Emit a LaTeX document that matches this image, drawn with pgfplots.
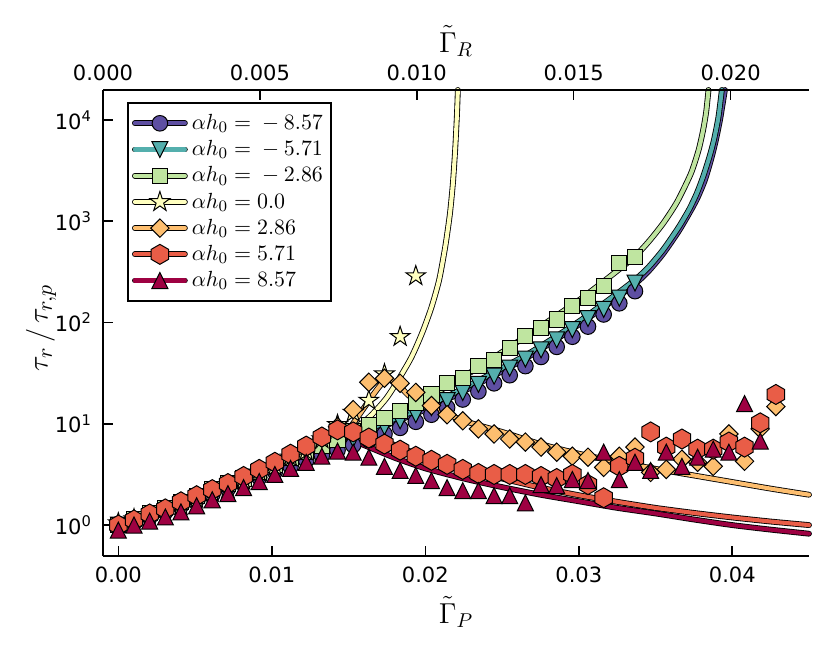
\documentclass[border=0pt]{standalone}
\usepackage{fontspec}
\setmainfont{DejaVu Sans}
\usepackage{pgfplots}
\pgfplotsset{compat=1.18}

\definecolor{c1}{HTML}{5E4FA2}
\definecolor{c2}{HTML}{54AFAD}
\definecolor{c3}{HTML}{BFE5A0}
\definecolor{c4}{HTML}{FFFFBF}
\definecolor{c5}{HTML}{FDBE6F}
\definecolor{c6}{HTML}{E95D47}
\definecolor{c7}{HTML}{9E0142}

\pgfdeclareplotmark{fstar}{%
 \pgfpathmoveto{\pgfqpoint{0pt}{\pgfplotmarksize}}%
 \pgfpathlineto{\pgfqpoint{-0.2245\pgfplotmarksize}{0.309\pgfplotmarksize}}%
 \pgfpathlineto{\pgfqpoint{-0.951\pgfplotmarksize}{0.309\pgfplotmarksize}}%
 \pgfpathlineto{\pgfqpoint{-0.3633\pgfplotmarksize}{-0.118\pgfplotmarksize}}%
 \pgfpathlineto{\pgfqpoint{-0.588\pgfplotmarksize}{-0.809\pgfplotmarksize}}%
 \pgfpathlineto{\pgfqpoint{0pt}{-0.382\pgfplotmarksize}}%
 \pgfpathlineto{\pgfqpoint{0.588\pgfplotmarksize}{-0.809\pgfplotmarksize}}%
 \pgfpathlineto{\pgfqpoint{0.3633\pgfplotmarksize}{-0.118\pgfplotmarksize}}%
 \pgfpathlineto{\pgfqpoint{0.951\pgfplotmarksize}{0.309\pgfplotmarksize}}%
 \pgfpathlineto{\pgfqpoint{0.2245\pgfplotmarksize}{0.309\pgfplotmarksize}}%
 \pgfpathclose\pgfusepathqfillstroke}
\pgfdeclareplotmark{hexa}{%
 \pgfpathmoveto{\pgfqpoint{0pt}{\pgfplotmarksize}}%
 \pgfpathlineto{\pgfqpoint{-0.866\pgfplotmarksize}{0.5\pgfplotmarksize}}%
 \pgfpathlineto{\pgfqpoint{-0.866\pgfplotmarksize}{-0.5\pgfplotmarksize}}%
 \pgfpathlineto{\pgfqpoint{0pt}{-\pgfplotmarksize}}%
 \pgfpathlineto{\pgfqpoint{0.866\pgfplotmarksize}{-0.5\pgfplotmarksize}}%
 \pgfpathlineto{\pgfqpoint{0.866\pgfplotmarksize}{0.5\pgfplotmarksize}}%
 \pgfpathclose\pgfusepathqfillstroke}
\pgfdeclareplotmark{sqdiam}{%
 \pgfpathmoveto{\pgfqpoint{0pt}{\pgfplotmarksize}}%
 \pgfpathlineto{\pgfqpoint{-\pgfplotmarksize}{0pt}}%
 \pgfpathlineto{\pgfqpoint{0pt}{-\pgfplotmarksize}}%
 \pgfpathlineto{\pgfqpoint{\pgfplotmarksize}{0pt}}%
 \pgfpathclose\pgfusepathqfillstroke}
\pgfdeclareplotmark{triup}{%
 \pgfpathmoveto{\pgfqpoint{0pt}{\pgfplotmarksize}}%
 \pgfpathlineto{\pgfqpoint{-\pgfplotmarksize}{-\pgfplotmarksize}}%
 \pgfpathlineto{\pgfqpoint{\pgfplotmarksize}{-\pgfplotmarksize}}%
 \pgfpathclose\pgfusepathqfillstroke}
\pgfdeclareplotmark{tridown}{%
 \pgfpathmoveto{\pgfqpoint{0pt}{-\pgfplotmarksize}}%
 \pgfpathlineto{\pgfqpoint{-\pgfplotmarksize}{\pgfplotmarksize}}%
 \pgfpathlineto{\pgfqpoint{\pgfplotmarksize}{\pgfplotmarksize}}%
 \pgfpathclose\pgfusepathqfillstroke}

\tikzset{
 m1/.style={mark=*, mark size=3.9pt, mark options={draw=black, fill=c1, line width=0.5pt, solid}},
 m2/.style={mark=tridown, mark size=4pt, mark options={draw=black, fill=c2, line width=0.5pt, solid}},
 m3/.style={mark=square*, mark size=3.8pt, mark options={draw=black, fill=c3, line width=0.5pt, solid}},
 m4/.style={mark=fstar, mark size=5.2pt, mark options={draw=black, fill=c4, line width=0.5pt, solid}},
 m5/.style={mark=sqdiam, mark size=4.6pt, mark options={draw=black, fill=c5, line width=0.5pt, solid}},
 m6/.style={mark=hexa, mark size=5pt, mark options={draw=black, fill=c6, line width=0.5pt, solid}},
 m7/.style={mark=triup, mark size=4pt, mark options={draw=black, fill=c7, line width=0.5pt, solid}},
}
\pgfplotsset{
 under/.style={black, line width=2.9pt, line cap=round, line join=round, smooth, tension=0.4, no marks, forget plot},
 over/.style={#1, line width=2.05pt, line cap=round, line join=round, smooth, tension=0.4, no marks, forget plot},
 pts/.style={only marks, forget plot, on layer=pre main},
}

\newcommand{\legimg}[2]{\addlegendimage{legend image code/.code={%
  \draw[black, line width=2.9pt, line cap=round] (0pt,0pt) -- (25pt,0pt);
  \draw[#1, line width=2.05pt, line cap=round] (0pt,0pt) -- (25pt,0pt);
  \draw plot[#2] coordinates {(12.5pt,0pt)};}}}

\begin{document}
\begin{tikzpicture}
\begin{axis}[
 set layers,
 scale only axis, width=353pt, height=233pt,
 xmin=-0.001, xmax=0.045,
 ymode=log, ymin=0.495, ymax=19800,
 axis x line*=bottom, axis y line*=left,
 axis line style={line width=1pt, -},
 tick align=inside,
 major tick length=5pt, minor tick length=0pt,
 every tick/.style={black, line width=0.8pt},
 scaled x ticks=false,
 xtick={0,0.01,0.02,0.03,0.04},
 xticklabels={0.00,0.01,0.02,0.03,0.04},
 ytick={1,10,100,1000,10000},
 yticklabels={10\textsuperscript{0},10\textsuperscript{1},10\textsuperscript{2},10\textsuperscript{3},10\textsuperscript{4}},
 ticklabel style={font=\fontsize{10.5}{12}\selectfont},
 xticklabel style={yshift=-2pt},
 yticklabel style={xshift=-2pt},
 every axis x label/.style={at={(rel axis cs:0.5,0)}, anchor=center, yshift=-28pt, font=\fontsize{14}{16}\selectfont},
 xlabel={$\tilde{\Gamma}_P$},
 clip=false,
 legend style={at={(rel axis cs:0,1)}, anchor=north west, xshift=12pt, yshift=-6pt,
   draw=black, line width=1pt, font=\fontsize{11}{13}\selectfont,
   inner xsep=2pt, inner ysep=3.6pt, row sep=0pt},
 legend cell align=left,
]
\coordinate (SW) at (rel axis cs:0,0);
\coordinate (NE) at (rel axis cs:1,1);
\coordinate (YL) at (rel axis cs:0,0.49);

% markers
\addplot[pts, m1] coordinates {(0,1.023)(0.00102,1.072)(0.00204,1.202)(0.00306,1.349)(0.00408,1.549)(0.0051,1.778)(0.00612,1.995)(0.00714,2.291)(0.00816,2.630)(0.00918,2.951)(0.0102,3.388)(0.01122,3.802)(0.01224,4.365)(0.01326,4.898)(0.01428,5.495)(0.0153,6.166)(0.01632,6.918)(0.01734,7.943)(0.01836,9.120)(0.01938,10.47)(0.0204,12.30)(0.02142,14.45)(0.02244,17.38)(0.02346,20.89)(0.02448,25.12)(0.0255,30.20)(0.02652,37.15)(0.02754,45.71)(0.02856,57.54)(0.02958,72.44)(0.0306,91.20)(0.03162,120.2)(0.03264,154.9)(0.03366,204.2)};
\addplot[pts, m2] coordinates {(0,1.0)(0.00102,1.047)(0.00204,1.175)(0.00306,1.349)(0.00408,1.549)(0.0051,1.738)(0.00612,1.995)(0.00714,2.291)(0.00816,2.630)(0.00918,3.020)(0.0102,3.467)(0.01122,3.981)(0.01224,4.571)(0.01326,5.248)(0.01428,6.026)(0.0153,7.079)(0.01632,8.128)(0.01734,9.333)(0.01836,10.72)(0.01938,12.30)(0.0204,14.45)(0.02142,16.98)(0.02244,20.42)(0.02346,24.55)(0.02448,29.51)(0.0255,35.48)(0.02652,43.65)(0.02754,53.70)(0.02856,67.61)(0.02958,85.11)(0.0306,109.6)(0.03162,134.9)(0.03264,173.8)(0.03366,245.5)};
\addplot[pts, m3] coordinates {(0,1.0)(0.00102,1.148)(0.00204,1.318)(0.00306,1.479)(0.00408,1.698)(0.0051,1.950)(0.00612,2.291)(0.00714,2.570)(0.00816,2.884)(0.00918,3.388)(0.0102,3.890)(0.01122,4.571)(0.01224,5.248)(0.01326,6.026)(0.01428,6.918)(0.0153,8.511)(0.01632,9.772)(0.01734,11.48)(0.01836,13.49)(0.01938,16.22)(0.0204,19.50)(0.02142,25.12)(0.02244,28.18)(0.02346,37.15)(0.02448,42.66)(0.0255,56.23)(0.02652,74.13)(0.02754,89.13)(0.02856,107.2)(0.02958,144.5)(0.0306,173.8)(0.03162,229.1)(0.03264,389.0)(0.03366,446.7)};
\addplot[pts, m4] coordinates {(0,1.047)(0.00102,1.148)(0.00204,1.202)(0.00306,1.288)(0.00408,1.549)(0.0051,1.820)(0.00612,2.089)(0.00714,2.291)(0.00816,2.754)(0.00918,3.311)(0.0102,3.802)(0.01122,4.677)(0.01224,5.370)(0.01326,7.079)(0.01428,9.772)(0.0153,12.88)(0.01632,16.98)(0.01734,30.90)(0.01836,72.44)(0.01938,288.4)};
\addplot[pts, m5] coordinates {(0,1.0)(0.00102,1.122)(0.00204,1.259)(0.00306,1.413)(0.00408,1.660)(0.0051,1.905)(0.00612,2.239)(0.00714,2.512)(0.00816,2.951)(0.00918,3.467)(0.0102,4.074)(0.01122,4.786)(0.01224,5.754)(0.01326,7.244)(0.01428,9.333)(0.0153,13.80)(0.01632,25.70)(0.01734,28.18)(0.01836,25.12)(0.01938,20.42)(0.0204,15.14)(0.02142,12.30)(0.02244,10.72)(0.02346,8.913)(0.02448,7.943)(0.0255,7.079)(0.02652,6.607)(0.02754,5.888)(0.02856,5.248)(0.02958,4.786)(0.0306,4.677)(0.03162,3.715)(0.03264,4.786)(0.03366,5.888)(0.03468,3.311)(0.0357,3.548)(0.03672,4.467)(0.03774,4.169)(0.03876,3.802)(0.03978,7.943)(0.0408,4.266)(0.04182,8.913)(0.04284,14.79)};
\addplot[pts, m6] coordinates {(0,1.0)(0.00102,1.122)(0.00204,1.288)(0.00306,1.445)(0.00408,1.698)(0.0051,1.950)(0.00612,2.239)(0.00714,2.570)(0.00816,3.020)(0.00918,3.548)(0.0102,4.169)(0.01122,5.012)(0.01224,6.026)(0.01326,7.413)(0.01428,8.710)(0.0153,8.318)(0.01632,7.244)(0.01734,6.310)(0.01836,5.495)(0.01938,4.786)(0.0204,4.365)(0.02142,3.981)(0.02244,3.548)(0.02346,3.236)(0.02448,3.162)(0.0255,3.162)(0.02652,3.162)(0.02754,3.020)(0.02856,2.884)(0.02958,3.162)(0.0306,2.512)(0.03162,1.862)(0.03264,3.802)(0.03366,4.571)(0.03468,8.318)(0.0357,5.888)(0.03672,7.079)(0.03774,5.623)(0.03876,5.623)(0.03978,6.607)(0.0408,5.888)(0.04182,10.23)(0.04284,19.50)};
\addplot[pts, m7] coordinates {(0,0.891)(0.00102,1.0)(0.00204,1.096)(0.00306,1.202)(0.00408,1.349)(0.0051,1.549)(0.00612,1.778)(0.00714,2.042)(0.00816,2.344)(0.00918,2.692)(0.0102,3.162)(0.01122,3.631)(0.01224,4.169)(0.01326,4.786)(0.01428,5.370)(0.0153,5.248)(0.01632,4.677)(0.01734,3.802)(0.01836,3.467)(0.01938,3.090)(0.0204,2.754)(0.02142,2.344)(0.02244,2.188)(0.02346,2.188)(0.02448,1.950)(0.0255,1.950)(0.02652,1.660)(0.02754,2.512)(0.02856,2.455)(0.02958,2.818)(0.0306,2.754)(0.03162,5.248)(0.03264,2.818)(0.03366,4.169)(0.03468,3.467)(0.0357,5.248)(0.03672,3.802)(0.03774,4.677)(0.03876,5.623)(0.03978,5.248)(0.0408,15.85)(0.04182,6.761)};

% lines
\addplot[under] coordinates {(0,1)(0.004,1.660)(0.008,2.818)(0.012,4.786)(0.016,7.943)(0.0203,14.45)(0.0235,25.12)(0.0268,46.77)(0.0301,97.72)(0.0334,223.9)(0.0345,316.2)(0.0355,478.6)(0.0365,794.3)(0.0372,1202)(0.0377,1660)(0.0382,2512)(0.0386,3981)(0.0389,6026)(0.0392,10000)(0.03952,19800)};
\addplot[over=c1] coordinates {(0,1)(0.004,1.660)(0.008,2.818)(0.012,4.786)(0.016,7.943)(0.0203,14.45)(0.0235,25.12)(0.0268,46.77)(0.0301,97.72)(0.0334,223.9)(0.0345,316.2)(0.0355,478.6)(0.0365,794.3)(0.0372,1202)(0.0377,1660)(0.0382,2512)(0.0386,3981)(0.0389,6026)(0.0392,10000)(0.03952,19800)};
\addplot[under] coordinates {(0,1)(0.004,1.679)(0.008,2.884)(0.012,5.012)(0.016,8.511)(0.0203,15.49)(0.0235,26.92)(0.0268,50.12)(0.0301,104.7)(0.0334,245.5)(0.0345,346.7)(0.0355,524.8)(0.0365,871.0)(0.0372,1318)(0.0377,1905)(0.0381,2754)(0.0385,4266)(0.0388,6310)(0.0391,10720)(0.03932,19800)};
\addplot[over=c2] coordinates {(0,1)(0.004,1.679)(0.008,2.884)(0.012,5.012)(0.016,8.511)(0.0203,15.49)(0.0235,26.92)(0.0268,50.12)(0.0301,104.7)(0.0334,245.5)(0.0345,346.7)(0.0355,524.8)(0.0365,871.0)(0.0372,1318)(0.0377,1905)(0.0381,2754)(0.0385,4266)(0.0388,6310)(0.0391,10720)(0.03932,19800)};
\addplot[under] coordinates {(0,1)(0.004,1.698)(0.008,2.951)(0.012,5.248)(0.016,9.333)(0.018,12.59)(0.0203,18.62)(0.0236,37.15)(0.0268,77.62)(0.0301,169.8)(0.0334,416.9)(0.0345,616.6)(0.0355,955)(0.0364,1549)(0.0373,2951)(0.0378,5012)(0.0381,7943)(0.0383,12020)(0.03845,19800)};
\addplot[over=c3] coordinates {(0,1)(0.004,1.698)(0.008,2.951)(0.012,5.248)(0.016,9.333)(0.018,12.59)(0.0203,18.62)(0.0236,37.15)(0.0268,77.62)(0.0301,169.8)(0.0334,416.9)(0.0345,616.6)(0.0355,955)(0.0364,1549)(0.0373,2951)(0.0378,5012)(0.0381,7943)(0.0383,12020)(0.03845,19800)};
\addplot[under] coordinates {(0,1)(0.004,1.679)(0.008,2.951)(0.012,5.309)(0.014,7.244)(0.016,10.47)(0.0175,18.20)(0.019,42.66)(0.0198,79.43)(0.0204,141.3)(0.0209,263.0)(0.0213,562.3)(0.0216,1175)(0.0218,2399)(0.02195,5248)(0.02206,11220)(0.02212,19800)};
\addplot[over=c4] coordinates {(0,1)(0.004,1.679)(0.008,2.951)(0.012,5.309)(0.014,7.244)(0.016,10.47)(0.0175,18.20)(0.019,42.66)(0.0198,79.43)(0.0204,141.3)(0.0209,263.0)(0.0213,562.3)(0.0216,1175)(0.0218,2399)(0.02195,5248)(0.02206,11220)(0.02212,19800)};
\addplot[under] coordinates {(0,1)(0.004,1.679)(0.008,2.951)(0.012,5.248)(0.0146,7.499)(0.0174,26.92)(0.019,18.62)(0.020,15.49)(0.0225,10.72)(0.025,8.318)(0.0275,6.310)(0.030,5.070)(0.0325,4.217)(0.035,3.589)(0.0375,3.090)(0.040,2.661)(0.0425,2.291)(0.045,1.995)};
\addplot[over=c5] coordinates {(0,1)(0.004,1.679)(0.008,2.951)(0.012,5.248)(0.0146,7.499)(0.0174,26.92)(0.019,18.62)(0.020,15.49)(0.0225,10.72)(0.025,8.318)(0.0275,6.310)(0.030,5.070)(0.0325,4.217)(0.035,3.589)(0.0375,3.090)(0.040,2.661)(0.0425,2.291)(0.045,1.995)};
\addplot[under] coordinates {(0,1)(0.004,1.679)(0.008,2.951)(0.012,5.248)(0.014,7.244)(0.0152,9.333)(0.016,8.318)(0.018,6.166)(0.020,4.677)(0.0225,3.589)(0.025,2.884)(0.0275,2.344)(0.030,1.972)(0.0325,1.698)(0.035,1.479)(0.0375,1.318)(0.040,1.189)(0.0425,1.084)(0.045,1.0)};
\addplot[over=c6] coordinates {(0,1)(0.004,1.679)(0.008,2.951)(0.012,5.248)(0.014,7.244)(0.0152,9.333)(0.016,8.318)(0.018,6.166)(0.020,4.677)(0.0225,3.589)(0.025,2.884)(0.0275,2.344)(0.030,1.972)(0.0325,1.698)(0.035,1.479)(0.0375,1.318)(0.040,1.189)(0.0425,1.084)(0.045,1.0)};
\addplot[under] coordinates {(0,1)(0.004,1.679)(0.008,2.951)(0.010,3.936)(0.012,5.248)(0.0146,7.499)(0.016,6.166)(0.018,4.624)(0.020,3.631)(0.0225,2.884)(0.025,2.371)(0.0275,1.995)(0.030,1.718)(0.0325,1.479)(0.035,1.303)(0.0375,1.135)(0.040,1.0)(0.0425,0.902)(0.045,0.822)};
\addplot[over=c7] coordinates {(0,1)(0.004,1.679)(0.008,2.951)(0.010,3.936)(0.012,5.248)(0.0146,7.499)(0.016,6.166)(0.018,4.624)(0.020,3.631)(0.0225,2.884)(0.025,2.371)(0.0275,1.995)(0.030,1.718)(0.0325,1.479)(0.035,1.303)(0.0375,1.135)(0.040,1.0)(0.0425,0.902)(0.045,0.822)};

\legimg{c1}{m1}\addlegendentry{$\alpha h_0 = {}-8.57$}
\legimg{c2}{m2}\addlegendentry{$\alpha h_0 = {}-5.71$}
\legimg{c3}{m3}\addlegendentry{$\alpha h_0 = {}-2.86$}
\legimg{c4}{m4}\addlegendentry{$\alpha h_0 = 0.0$}
\legimg{c5}{m5}\addlegendentry{$\alpha h_0 = 2.86$}
\legimg{c6}{m6}\addlegendentry{$\alpha h_0 = 5.71$}
\legimg{c7}{m7}\addlegendentry{$\alpha h_0 = 8.57$}
\end{axis}
\begin{axis}[
 scale only axis, width=353pt, height=233pt,
 xmin=0, xmax=0.0225, ymin=0, ymax=1,
 axis x line*=top, axis y line=none,
 axis line style={line width=1pt, -},
 tick align=inside,
 major tick length=5pt, minor tick length=0pt,
 every tick/.style={black, line width=0.8pt},
 scaled x ticks=false,
 xtick={0,0.005,0.01,0.015,0.02},
 xticklabels={0.000,0.005,0.010,0.015,0.020},
 ticklabel style={font=\fontsize{10.5}{12}\selectfont},
 xticklabel style={yshift=1pt},
 every axis x label/.style={at={(rel axis cs:0.5,1)}, anchor=center, yshift=24.5pt, font=\fontsize{14}{16}\selectfont},
 xlabel={$\tilde{\Gamma}_R$},
]
\end{axis}
\node[rotate=90, font=\fontsize{15}{17}\selectfont] at ([xshift=-31pt]YL) {$\tau_r\,/\,\tau_{r,p}$};
\pgfresetboundingbox
\path[use as bounding box] ([xshift=-51.5pt,yshift=-45pt]SW) rectangle ([xshift=10.5pt,yshift=45pt]NE);
\end{tikzpicture}
\end{document}
